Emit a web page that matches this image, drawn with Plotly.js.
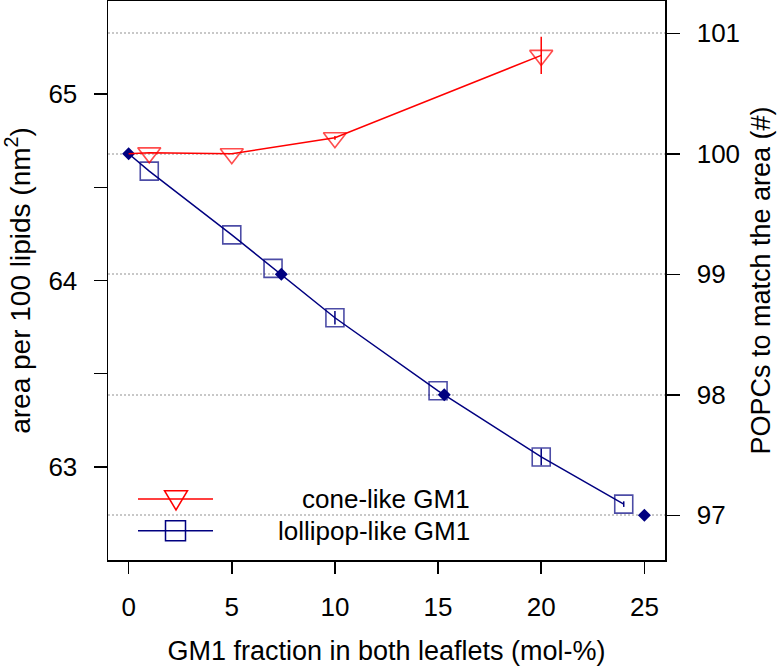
<!DOCTYPE html>
<html>
<head>
<meta charset="utf-8">
<script src="https://cdn.plot.ly/plotly-3.0.1.min.js"></script>
<style>html,body{margin:0;padding:0;background:#fff;}#chart{width:781px;height:669px;}</style>
</head>
<body>
<div id="chart"></div>
<script>
// ---- data ----
const pureArea = 64.68;            // area per 100 POPC lipids (nm^2), GM1 fraction 0
const areaPerPOPC = pureArea / 100; // nm^2 per POPC
const coneX    = [0, 1, 5, 10, 20];
const coneArea = [pureArea, 64.685, 64.68, 64.766, 65.208];
const coneErr  = [0, 0, 0, 0.01, 0.10];
const lolliX    = [0, 1, 5, 7, 10, 15, 20, 24];
const lolliArea = [pureArea, 64.587, 64.245, 64.065, 63.80, 63.408, 63.053, 62.80];
const lolliErr  = [0, 0, 0, 0, 0.036, 0, 0.045, 0.015];
const popcX     = [0, 7.4, 15.3, 25];
const popcCount = [100, 99, 98, 97];
const xTicks    = [0, 5, 10, 15, 20, 25];
const areaTicks = [63, 64, 65];
const areaMinorTicks = [63.5, 64.5];
const popcTicks = [97, 98, 99, 100, 101];
const legendNames = ['cone-like GM1', 'lollipop-like GM1'];

// ---- style ----
const RED = '#ff0000', NAVY = '#000080';
const FONT = 'Liberation Sans, Arial, Helvetica, sans-serif';
const areaRange = [62.5, 65.5];
const popcRange = areaRange.map(a => a / areaPerPOPC);

const sizeFor = (xs, s) => xs.map(x => (x === 0 ? 0 : s));

const traces = [
  {
    x: lolliX, y: lolliArea, yaxis: 'y2', type: 'scatter', mode: 'lines+markers',
    line: {color: NAVY, width: 1.5},
    marker: {symbol: 'square-open', size: sizeFor(lolliX, 18), color: NAVY, line: {width: 1.6, color: NAVY}},
    error_y: {type: 'data', array: lolliErr, visible: true, width: 0, thickness: 1.5, color: NAVY},
    showlegend: false, name: legendNames[1]
  },
  {
    x: coneX, y: coneArea, yaxis: 'y2', type: 'scatter', mode: 'lines+markers',
    line: {color: RED, width: 1.5},
    marker: {symbol: 'triangle-down-open', size: sizeFor(coneX, 20), color: RED, line: {width: 1.6, color: RED}},
    error_y: {type: 'data', array: coneErr, visible: true, width: 0, thickness: 1.5, color: RED},
    showlegend: false, name: legendNames[0]
  },
  {
    x: popcX, y: popcCount, yaxis: 'y', type: 'scatter', mode: 'markers',
    marker: {symbol: 'diamond', size: 10, color: NAVY},
    showlegend: false, name: 'POPC'
  }
];

// plot area in pixels (for the hand-drawn legend)
const M = {l: 108, r: 116, t: 1, b: 109};
const W = 781, H = 669;
const PW = W - M.l - M.r, PH = H - M.t - M.b;
const px = x => (x - M.l) / PW;
const py = y => (H - M.b - y) / PH;

const shapes = [
  {type: 'line', xref: 'paper', yref: 'paper', x0: px(138), x1: px(213), y0: py(499), y1: py(499), line: {color: RED, width: 1.5}},
  {type: 'path', xref: 'paper', yref: 'paper',
   path: `M${px(164.5)},${py(490.7)} L${px(187.5)},${py(490.7)} L${px(176)},${py(510)} Z`,
   line: {color: RED, width: 1.5}},
  {type: 'line', xref: 'paper', yref: 'paper', x0: px(138), x1: px(213), y0: py(530.7), y1: py(530.7), line: {color: NAVY, width: 1.5}},
  {type: 'rect', xref: 'paper', yref: 'paper', x0: px(165.5), x1: px(185.5), y0: py(520.7), y1: py(540.7), line: {color: NAVY, width: 1.5}}
];

const annotations = [
  {xref: 'paper', yref: 'paper', x: px(472), y: py(499), xanchor: 'right', yanchor: 'middle', showarrow: false,
   text: legendNames[0], font: {family: FONT, size: 26, color: '#000'}},
  {xref: 'paper', yref: 'paper', x: px(472), y: py(531), xanchor: 'right', yanchor: 'middle', showarrow: false,
   text: legendNames[1], font: {family: FONT, size: 26, color: '#000'}}
];

const layout = {
  width: W, height: H,
  margin: M,
  paper_bgcolor: '#fff', plot_bgcolor: '#fff',
  font: {family: FONT, size: 26, color: '#000'},
  showlegend: false,
  xaxis: {
    range: [-1, 26], tickvals: xTicks, ticks: 'outside', ticklen: 12, tickwidth: 1.5, tickcolor: '#000',
    showline: true, linecolor: '#000', linewidth: 1.5, mirror: true,
    showgrid: false, zeroline: false, ticklabelstandoff: 11,
    tickfont: {family: FONT, size: 26},
    title: {text: 'GM1 fraction in both leaflets (mol-%)', font: {family: FONT, size: 27}, standoff: 20},
    automargin: false
  },
  yaxis: {
    side: 'right', range: popcRange, tickvals: popcTicks, ticks: 'outside', ticklen: 13, tickwidth: 1.5, tickcolor: '#000',
    showline: true, linecolor: '#000', linewidth: 1.5,
    showgrid: true, gridcolor: '#c8c8c8', gridwidth: 2, griddash: '2px,2px',
    zeroline: false, ticklabelstandoff: 12,
    tickfont: {family: FONT, size: 26},
    title: {text: 'POPCs to match the area (#)', font: {family: FONT, size: 27}, standoff: 12},
    automargin: false
  },
  yaxis2: {
    overlaying: 'y', side: 'left', range: areaRange, tickvals: areaTicks,
    ticks: 'outside', ticklen: 13, tickwidth: 1.5, tickcolor: '#000',
    minor: {tickvals: areaMinorTicks, ticks: 'outside', ticklen: 13, tickwidth: 1.5, tickcolor: '#000', showgrid: false},
    showline: true, linecolor: '#000', linewidth: 1.5,
    showgrid: false, zeroline: false, ticklabelstandoff: 11,
    tickfont: {family: FONT, size: 26},
    title: {text: 'area per 100 lipids (nm<sup>2</sup>)', font: {family: FONT, size: 28}, standoff: 10},
    automargin: false
  },
  shapes: shapes,
  annotations: annotations
};

Plotly.newPlot('chart', traces, layout, {displayModeBar: false, staticPlot: true});
</script>
</body>
</html>
